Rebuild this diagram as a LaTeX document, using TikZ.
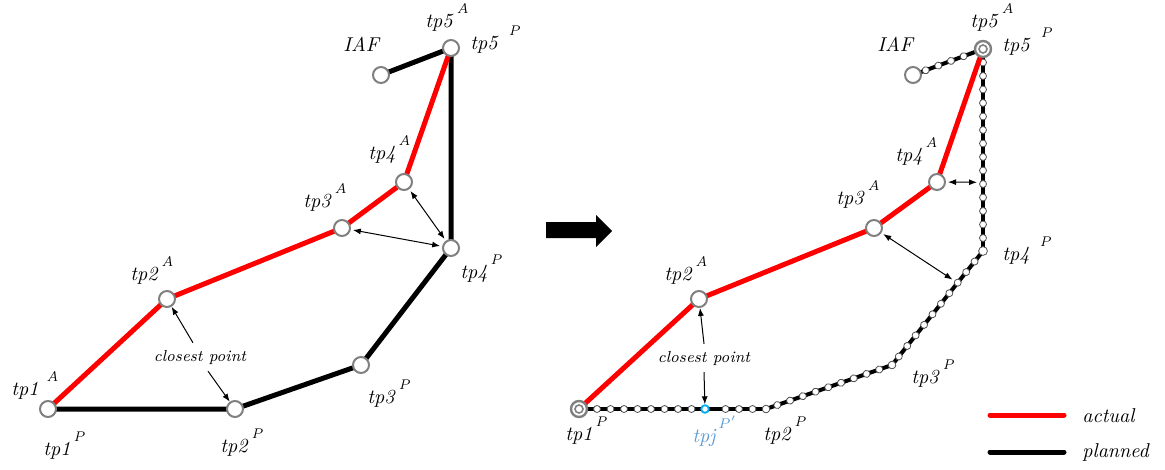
\documentclass[tikz,border=0pt]{standalone}
\usepackage{xcolor}
\usepackage{tikz}
\usetikzlibrary{arrows.meta, calc, backgrounds, decorations.markings}
\definecolor{ptgray}{RGB}{128,128,128}
\definecolor{dotgray}{RGB}{80,80,80}
\definecolor{jblue}{RGB}{91,155,213}
\definecolor{jcyan}{RGB}{0,176,240}
\newcommand{\tpname}[3][1.5pt]{\textit{tp#2}\hspace{#1}\raisebox{7pt}{\scriptsize\textit{#3}}}
\tikzset{
  waypt/.style={
    circle, draw=ptgray, line width=1pt, fill=white, minimum size=8pt, inner sep=0pt
  },
  endpt/.style={
    waypt, line width=1.2pt,
    path picture={\draw[ptgray, line width=0.8pt] (path picture bounding box.center) circle (2pt);}
  },
  dotpt/.style={
    circle, draw=dotgray, line width=0.4pt, fill=white, minimum size=3.8pt, inner sep=0pt
  },
  tplabel/.style={anchor=base west, inner sep=0pt, font=\normalsize},
  actualline/.style={draw=red, line width=2.5pt},
  plannedline/.style={draw=black, line width=2.5pt},
  plannedtrack/.style={
    draw=black, line width=2pt, line cap=round, postaction={decorate},
    decoration={markings, mark=between positions 0 and -4pt step 6.75pt with
      {\fill[white, draw=dotgray, line width=0.4pt] (0,0) circle (1.75pt);}}
  },
  distarrow/.style={{Latex[length=4pt,width=3pt]}-{Latex[length=4pt,width=3pt]}, line width=0.5pt, shorten <=1pt, shorten >=1pt},
  notearrow/.style={-{Latex[length=4pt,width=3pt]}, line width=0.5pt}
}
\begin{document}
\begin{tikzpicture}[x=0.5pt, y=-0.5pt]
\useasboundingbox (0,0) rectangle (1165,470);

% before: turn points of both routes
\node[waypt] (tp1L) at (48,409) {};
\node[waypt] (tp2PL) at (235,409) {};
\node[waypt] (tp3PL) at (361,365) {};
\node[waypt] (tp4PL) at (451,248) {};
\node[waypt] (tp5L) at (451,48) {};
\node[waypt] (iafL) at (381,75) {};
\node[waypt] (tp2AL) at (167,299) {};
\node[waypt] (tp3AL) at (342,228) {};
\node[waypt] (tp4AL) at (404,182) {};

\node[tplabel] (lbl5AL) at (425,28) {\tpname{5}{A}};
\node[tplabel] (lbl5PL) at (470,50) {\tpname[5pt]{5}{P}};
\node[tplabel] (lblIAFL) at (343,52) {\textit{IAF}};
\node[tplabel] (lbl4AL) at (368,160) {\tpname{4}{A}};
\node[tplabel] (lbl3AL) at (303,207) {\tpname{3}{A}};
\node[tplabel] (lbl2AL) at (130,280) {\tpname{2}{A}};
\node[tplabel] (lbl1AL) at (11,395) {\tpname[4pt]{1}{A}};
\node[tplabel] (lbl1PL) at (43,455) {\tpname{1}{P}};
\node[tplabel] (lbl2PL) at (220,452) {\tpname{2}{P}};
\node[tplabel] (lbl3PL) at (367,403) {\tpname{3}{P}};
\node[tplabel] (lbl4PL) at (460,278) {\tpname{4}{P}};

\begin{scope}[on background layer]
\draw[plannedline] (iafL.center) -- (tp5L.center) -- (tp4PL.center) -- (tp3PL.center) -- (tp2PL.center) -- (tp1L.center);
\draw[actualline] (tp1L.center) -- (tp2AL.center) -- (tp3AL.center) -- (tp4AL.center) -- (tp5L.center);
\end{scope}

\draw[distarrow] (tp3AL) -- (tp4PL);
\draw[distarrow] (tp4AL) -- (tp4PL);
\node[font=\footnotesize\itshape] (cpL) at (200,357) {closest point};
\draw[notearrow] ([xshift=-3.5pt]cpL.north) -- (tp2AL);
\draw[notearrow] ([xshift=4pt]cpL.south) -- (tp2PL);

% big arrow
\fill (546,222) -- (596,222) -- (596,215) -- (612,231) -- (596,247) -- (596,238) -- (546,238) -- cycle;

% after: planned route resampled
\node[endpt] (tp1R) at (579,409) {};
\node[dotpt, draw=jcyan, line width=0.9pt, minimum size=3.8pt] (tpjR) at (705,409) {};
\node[dotpt] (tp2PR) at (766,409) {};
\node[dotpt] (tp3PR) at (892,365) {};
\node[dotpt, minimum size=4.4pt] (tp4PR) at (983,251) {};
\node[endpt] (tp5R) at (983,49) {};
\node[waypt] (iafR) at (913,75) {};
\node[waypt] (tp2AR) at (699,299) {};
\node[waypt] (tp3AR) at (874,228) {};
\node[waypt] (tp4AR) at (937,182) {};

\node[tplabel] (lbl5AR) at (970,28) {\tpname{5}{A}};
\node[tplabel] (lbl5PR) at (1002,52) {\tpname[5pt]{5}{P}};
\node[tplabel] (lblIAFR) at (877,52) {\textit{IAF}};
\node[tplabel] (lbl4AR) at (895,162) {\tpname{4}{A}};
\node[tplabel] (lbl3AR) at (836,205) {\tpname{3}{A}};
\node[tplabel] (lbl2AR) at (664,280) {\tpname{2}{A}};
\node[tplabel] (lbl4PR) at (1002,260) {\tpname[5pt]{4}{P}};
\node[tplabel] (lbl3PR) at (911,383) {\tpname{3}{P}};
\node[tplabel] (lbl2PR) at (763,440) {\tpname{2}{P}};
\node[tplabel] (lbl1PR) at (565,440) {\tpname{1}{P}};
\node[tplabel, text=jblue] (lbljR) at (692,442) {\textit{tpj}\hspace{1pt}\raisebox{7pt}{\scriptsize$P'$}};

\begin{scope}[on background layer]
\foreach \a/\b in {iafR/tp5R, tp5R/tp4PR, tp4PR/tp3PR, tp3PR/tp2PR, tp2PR/tpjR, tpjR/tp1R}
  \draw[plannedtrack] (\a.center) -- (\b.center);
\draw[actualline] (tp1R.center) -- (tp2AR.center) -- (tp3AR.center) -- (tp4AR.center) -- (tp5R.center);
\end{scope}

\coordinate (ft4) at ($(tp4PR.center)!0.34!(tp5R.center)$);
\coordinate (ft3) at ($(tp3PR.center)!0.72!(tp4PR.center)$);
\draw[distarrow, shorten >=3pt] (tp4AR) -- (ft4);
\draw[distarrow, shorten >=3pt] (tp3AR) -- (ft3);
\node[font=\footnotesize\itshape] (cpR) at (704,358) {closest point};
\draw[notearrow] (cpR.north) -- (tp2AR);
\draw[notearrow] (cpR.south) -- (tpjR);

% legend
\coordinate (actA) at (990,415);
\coordinate (actB) at (1064,415);
\coordinate (plnA) at (990,452);
\coordinate (plnB) at (1064,452);
\draw[actualline, line cap=round] (actA) -- (actB);
\draw[plannedline, line cap=round] (plnA) -- (plnB);
\node[tplabel] (actualtext) at (1082,422) {\textit{actual}};
\node[tplabel] (plannedtext) at (1082,457) {\textit{planned}};

\end{tikzpicture}
\end{document}
